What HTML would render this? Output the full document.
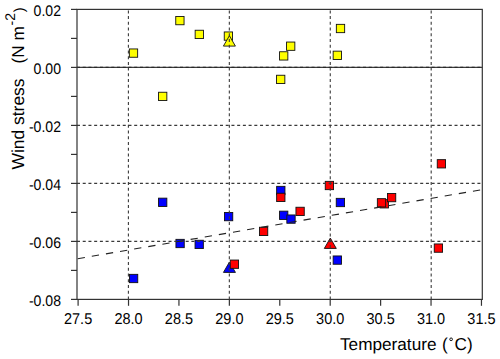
<!DOCTYPE html>
<html><head><meta charset="utf-8"><style>
html,body{margin:0;padding:0;background:#fff;}
body{width:500px;height:359px;overflow:hidden;}
svg{display:block;text-rendering:geometricPrecision;font-family:"Liberation Sans",sans-serif;}
</style></head><body>
<svg width="500" height="359" viewBox="0 0 500 359">
<rect width="500" height="359" fill="#fff"/>
<g id="markers">
<rect x="129.45" y="274.35" width="8.3" height="8.3" fill="#0000ff" stroke="#111" stroke-width="0.9"/>
<rect x="158.55" y="198.15" width="8.3" height="8.3" fill="#0000ff" stroke="#111" stroke-width="0.9"/>
<rect x="175.95" y="239.35" width="8.3" height="8.3" fill="#0000ff" stroke="#111" stroke-width="0.9"/>
<rect x="195.05" y="240.25" width="8.3" height="8.3" fill="#0000ff" stroke="#111" stroke-width="0.9"/>
<rect x="224.45" y="212.45" width="8.3" height="8.3" fill="#0000ff" stroke="#111" stroke-width="0.9"/>
<rect x="276.65" y="186.35" width="8.3" height="8.3" fill="#0000ff" stroke="#111" stroke-width="0.9"/>
<rect x="279.55" y="211.15" width="8.3" height="8.3" fill="#0000ff" stroke="#111" stroke-width="0.9"/>
<rect x="286.85" y="214.95" width="8.3" height="8.3" fill="#0000ff" stroke="#111" stroke-width="0.9"/>
<rect x="336.25" y="198.35" width="8.3" height="8.3" fill="#0000ff" stroke="#111" stroke-width="0.9"/>
<rect x="333.15" y="255.95" width="8.3" height="8.3" fill="#0000ff" stroke="#111" stroke-width="0.9"/>
<polygon points="229.45,262.00 235.45,272.40 223.45,272.40" fill="#0000ff" stroke="#111" stroke-width="0.9" stroke-linejoin="miter"/>
<rect x="129.35" y="48.95" width="8.3" height="8.3" fill="#ffff00" stroke="#111" stroke-width="0.9"/>
<rect x="175.75" y="16.45" width="8.3" height="8.3" fill="#ffff00" stroke="#111" stroke-width="0.9"/>
<rect x="195.15" y="30.25" width="8.3" height="8.3" fill="#ffff00" stroke="#111" stroke-width="0.9"/>
<rect x="224.25" y="31.95" width="8.3" height="8.3" fill="#ffff00" stroke="#111" stroke-width="0.9"/>
<rect x="158.55" y="92.25" width="8.3" height="8.3" fill="#ffff00" stroke="#111" stroke-width="0.9"/>
<rect x="286.55" y="42.05" width="8.3" height="8.3" fill="#ffff00" stroke="#111" stroke-width="0.9"/>
<rect x="279.55" y="51.75" width="8.3" height="8.3" fill="#ffff00" stroke="#111" stroke-width="0.9"/>
<rect x="276.55" y="75.25" width="8.3" height="8.3" fill="#ffff00" stroke="#111" stroke-width="0.9"/>
<rect x="333.15" y="51.15" width="8.3" height="8.3" fill="#ffff00" stroke="#111" stroke-width="0.9"/>
<rect x="336.35" y="24.35" width="8.3" height="8.3" fill="#ffff00" stroke="#111" stroke-width="0.9"/>
<polygon points="229.40,35.70 235.40,46.10 223.40,46.10" fill="#ffff00" stroke="#111" stroke-width="0.9" stroke-linejoin="miter"/>
<polygon points="330.30,238.05 336.30,248.45 324.30,248.45" fill="#ff0000" stroke="#111" stroke-width="0.9" stroke-linejoin="miter"/>
<rect x="230.25" y="260.05" width="8.3" height="8.3" fill="#ff0000" stroke="#111" stroke-width="0.9"/>
<rect x="259.45" y="227.25" width="8.3" height="8.3" fill="#ff0000" stroke="#111" stroke-width="0.9"/>
<rect x="276.65" y="193.25" width="8.3" height="8.3" fill="#ff0000" stroke="#111" stroke-width="0.9"/>
<rect x="295.95" y="207.25" width="8.3" height="8.3" fill="#ff0000" stroke="#111" stroke-width="0.9"/>
<rect x="325.25" y="181.35" width="8.3" height="8.3" fill="#ff0000" stroke="#111" stroke-width="0.9"/>
<rect x="380.15" y="199.65" width="8.3" height="8.3" fill="#ff0000" stroke="#111" stroke-width="0.9"/>
<rect x="377.35" y="198.65" width="8.3" height="8.3" fill="#ff0000" stroke="#111" stroke-width="0.9"/>
<rect x="387.45" y="193.45" width="8.3" height="8.3" fill="#ff0000" stroke="#111" stroke-width="0.9"/>
<rect x="437.25" y="159.65" width="8.3" height="8.3" fill="#ff0000" stroke="#111" stroke-width="0.9"/>
<rect x="434.25" y="243.95" width="8.3" height="8.3" fill="#ff0000" stroke="#111" stroke-width="0.9"/>
</g>
<g id="grid">
<line x1="128.40" y1="299.4" x2="128.40" y2="9.4" stroke="#3a3a3a" stroke-width="1.1" stroke-dasharray="3.0 2.72"/>
<line x1="229.33" y1="299.4" x2="229.33" y2="9.4" stroke="#3a3a3a" stroke-width="1.1" stroke-dasharray="3.0 2.72"/>
<line x1="330.26" y1="299.4" x2="330.26" y2="9.4" stroke="#3a3a3a" stroke-width="1.1" stroke-dasharray="3.0 2.72"/>
<line x1="431.19" y1="299.4" x2="431.19" y2="9.4" stroke="#3a3a3a" stroke-width="1.1" stroke-dasharray="3.0 2.72"/>
<line x1="77.0" y1="125.40" x2="482.3" y2="125.40" stroke="#3a3a3a" stroke-width="1.1" stroke-dasharray="3.0 2.72"/>
<line x1="77.0" y1="183.40" x2="482.3" y2="183.40" stroke="#3a3a3a" stroke-width="1.1" stroke-dasharray="3.0 2.72"/>
<line x1="77.0" y1="241.40" x2="482.3" y2="241.40" stroke="#3a3a3a" stroke-width="1.1" stroke-dasharray="3.0 2.72"/>
<line x1="77.0" y1="67.40" x2="482.3" y2="67.40" stroke="#3c3c3c" stroke-width="1.1"/>
<line x1="77.0" y1="67.40" x2="482.3" y2="67.40" stroke="#282828" stroke-width="1.1" stroke-dasharray="3.0 2.72"/>
<line x1="77.0" y1="258.8" x2="482.3" y2="189.62" stroke="#222" stroke-width="1.1" stroke-dasharray="7.3 7.02" stroke-dashoffset="-0.7"/>
</g>
<g id="axes">
<rect x="77.0" y="9.4" width="405.30" height="290.00" fill="none" stroke="#333" stroke-width="1.2"/>
<line x1="71" y1="9.40" x2="77.0" y2="9.40" stroke="#333" stroke-width="1.2"/>
<line x1="71" y1="38.40" x2="77.0" y2="38.40" stroke="#333" stroke-width="1.2"/>
<line x1="71" y1="67.40" x2="77.0" y2="67.40" stroke="#333" stroke-width="1.2"/>
<line x1="71" y1="96.40" x2="77.0" y2="96.40" stroke="#333" stroke-width="1.2"/>
<line x1="71" y1="125.40" x2="77.0" y2="125.40" stroke="#333" stroke-width="1.2"/>
<line x1="71" y1="154.40" x2="77.0" y2="154.40" stroke="#333" stroke-width="1.2"/>
<line x1="71" y1="183.40" x2="77.0" y2="183.40" stroke="#333" stroke-width="1.2"/>
<line x1="71" y1="212.40" x2="77.0" y2="212.40" stroke="#333" stroke-width="1.2"/>
<line x1="71" y1="241.40" x2="77.0" y2="241.40" stroke="#333" stroke-width="1.2"/>
<line x1="71" y1="270.40" x2="77.0" y2="270.40" stroke="#333" stroke-width="1.2"/>
<line x1="71" y1="299.40" x2="77.0" y2="299.40" stroke="#333" stroke-width="1.2"/>
<line x1="78.10" y1="299.4" x2="78.10" y2="305.8" stroke="#333" stroke-width="1.2"/>
<line x1="128.52" y1="299.4" x2="128.52" y2="305.8" stroke="#333" stroke-width="1.2"/>
<line x1="178.94" y1="299.4" x2="178.94" y2="305.8" stroke="#333" stroke-width="1.2"/>
<line x1="229.36" y1="299.4" x2="229.36" y2="305.8" stroke="#333" stroke-width="1.2"/>
<line x1="279.78" y1="299.4" x2="279.78" y2="305.8" stroke="#333" stroke-width="1.2"/>
<line x1="330.20" y1="299.4" x2="330.20" y2="305.8" stroke="#333" stroke-width="1.2"/>
<line x1="380.62" y1="299.4" x2="380.62" y2="305.8" stroke="#333" stroke-width="1.2"/>
<line x1="431.04" y1="299.4" x2="431.04" y2="305.8" stroke="#333" stroke-width="1.2"/>
<line x1="481.46" y1="299.4" x2="481.46" y2="305.8" stroke="#333" stroke-width="1.2"/>
</g>
<g id="labels" font-size="14.5" fill="#000">
<text transform="translate(61 15.90) scale(0.97 1.06)" text-anchor="end">0.02</text>
<text transform="translate(61 73.90) scale(0.97 1.06)" text-anchor="end">0.00</text>
<text transform="translate(61 131.90) scale(0.97 1.06)" text-anchor="end">-0.02</text>
<text transform="translate(61 189.90) scale(0.97 1.06)" text-anchor="end">-0.04</text>
<text transform="translate(61 247.90) scale(0.97 1.06)" text-anchor="end">-0.06</text>
<text transform="translate(61 305.90) scale(0.97 1.06)" text-anchor="end">-0.08</text>
<text transform="translate(78.10 323.9) scale(1 1.08)" text-anchor="middle">27.5</text>
<text transform="translate(128.52 323.9) scale(1 1.08)" text-anchor="middle">28.0</text>
<text transform="translate(178.94 323.9) scale(1 1.08)" text-anchor="middle">28.5</text>
<text transform="translate(229.36 323.9) scale(1 1.08)" text-anchor="middle">29.0</text>
<text transform="translate(279.78 323.9) scale(1 1.08)" text-anchor="middle">29.5</text>
<text transform="translate(330.20 323.9) scale(1 1.08)" text-anchor="middle">30.0</text>
<text transform="translate(380.62 323.9) scale(1 1.08)" text-anchor="middle">30.5</text>
<text transform="translate(431.04 323.9) scale(1 1.08)" text-anchor="middle">31.0</text>
<text transform="translate(481.46 323.9) scale(1 1.08)" text-anchor="middle">31.5</text>
</g>
<text x="340" y="350.4" font-size="17.2" fill="#000" xml:space="preserve">Temperature <tspan dx="0.7">(</tspan></text>
<circle cx="451.1" cy="339.3" r="1.35" fill="none" stroke="#000" stroke-width="0.9"/>
<text x="454.6" y="350.4" font-size="17.2" fill="#000">C)</text>
<g transform="translate(24.2,0) rotate(-90)" fill="#000">
<text x="-169.5" y="0" font-size="17.43">Wind stress</text>
<text x="-63.4" y="0" font-size="17.2">(N m</text>
<text x="-25.5" y="-8.0" font-size="14">-</text><text x="-20.8" y="-9.3" font-size="14">2</text>
<text x="-12.2" y="-0.1" font-size="14.6">)</text>
</g>
</svg>
</body></html>
